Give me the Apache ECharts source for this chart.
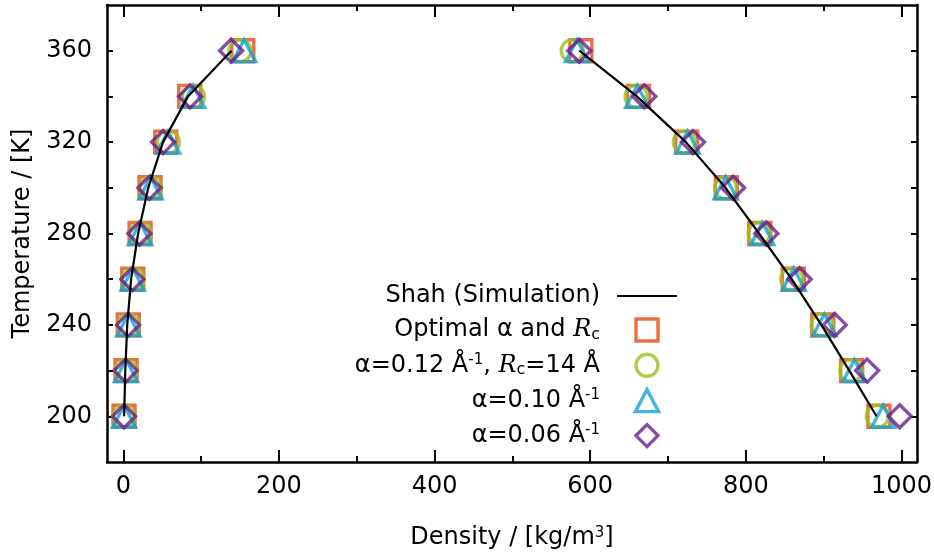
<!DOCTYPE html>
<html>
<head>
<meta charset="utf-8">
<script src="https://cdn.jsdelivr.net/npm/echarts@6/dist/echarts.min.js"></script>
<style>
  html, body { margin: 0; padding: 0; background: #fff; }
  #chart { width: 934px; height: 554px; }
</style>
</head>
<body>
<div id="chart"></div>
<script>
// Temperatures of the coexistence points [K]
const temperatures = [200, 220, 240, 260, 280, 300, 320, 340, 360];

// Shah simulation (vapour and liquid branches) [kg/m3]
const shahVapour = [1, 2.5, 5, 10, 19, 32, 51, 83, 139];
const shahLiquid = [968, 933, 897, 859, 817, 774, 723, 660, 586];

// Optimal alpha and Rc
const optimalVapour = [0.9, 3.5, 6.4, 12.1, 21.5, 34.3, 54.5, 85.4, 153.5];
const optimalLiquid = [971, 936, 899, 861, 818, 775, 724, 662, 588];

// alpha = 0.12 1/A, Rc = 14 A
const a012Vapour = [1, 3.5, 6.5, 12.5, 22, 35, 58, 90, 150];
const a012Liquid = [969, 935, 898, 859, 817, 774, 721, 659, 577];

// alpha = 0.10 1/A
const a010Vapour = [1, 3.5, 6.5, 12, 21.5, 35, 57.5, 89.6, 155.2];
const a010Liquid = [976.5, 939.6, 901, 861.5, 821.3, 774, 725.2, 660.5, 583];

// alpha = 0.06 1/A
const a006Vapour = [0.9, 3, 6, 11.5, 20.6, 33.5, 51, 85.8, 138.5];
const a006Liquid = [997.8, 955.9, 914.2, 869.2, 826.4, 783.6, 732.1, 669.5, 586];

// Axis ticks
const xMajorTicks = [0, 200, 400, 600, 800, 1000];
const xMinorTicks = [100, 300, 500, 700, 900];
const yTicks = [200, 220, 240, 260, 280, 300, 320, 340, 360];
const yLabels = [200, 240, 280, 320, 360];

// Series names and their legend text
const names = {
  shah: 'Shah (Simulation)',
  opt: 'Optimal α and Rc',
  a012: 'α=0.12 Å-1, Rc=14 Å',
  a010: 'α=0.10 Å-1',
  a006: 'α=0.06 Å-1'
};
const legendRich = {
  [names.shah]: '{t|Shah (Simulation)}{g| }',
  [names.opt]: '{t|Optimal α and }{r|R}{sub|c}{g| }',
  [names.a012]: '{t|α=0.12 Å}{sup|-1}{t|, }{r|R}{sub|c}{t|=14 Å}{g| }',
  [names.a010]: '{t|α=0.10 Å}{sup|-1}{g| }',
  [names.a006]: '{t|α=0.06 Å}{sup|-1}{g| }'
};

// Hollow marker outlines (aspect kept, so legend icons stay square)
const SQUARE = 'path://M0,0L1,0L1,1L0,1Z';
const TRIANGLE = 'path://M1,0L2,1.9L0,1.9Z';
const DIAMOND = 'path://M1,0L2,1L1,2L0,1Z';

const FONT = 'DejaVu Sans';
const MARK_W = 3.4;

// Pair densities with temperatures; both branches in one list
function points(vap, liq) {
  const out = [];
  temperatures.forEach((t, i) => out.push([vap[i], t]));
  temperatures.forEach((t, i) => out.push([liq[i], t]));
  return out;
}
// Line data: vapour branch, gap, liquid branch
function curve(vap, liq) {
  const out = temperatures.map((t, i) => [vap[i], t]);
  out.push('-');
  for (let i = temperatures.length - 1; i >= 0; i--) {
    out.push([liq[i], temperatures[i]]);
  }
  return out;
}

function markerSeries(name, symbol, size, color, vap, liq) {
  return {
    name: name,
    type: 'scatter',
    symbol: symbol,
    symbolSize: size,
    symbolKeepAspect: true,
    itemStyle: { color: 'rgba(0,0,0,0)', borderColor: color, borderWidth: MARK_W },
    emphasis: { disabled: true },
    data: points(vap, liq),
    z: 3
  };
}

const axisColor = '#000';
const lineW = 2.5;

const option = {
  animation: false,
  backgroundColor: '#fff',
  grid: { left: 107, right: 17, top: 5, bottom: 92, containLabel: false, outerBoundsMode: 'none' },
  legend: {
    orient: 'vertical',
    align: 'right',
    right: 256,
    top: 284,
    padding: 0,
    itemGap: 9.3,
    itemWidth: 60,
    itemHeight: 22,
    selectedMode: false,
    symbolKeepAspect: true,
    itemStyle: { borderWidth: MARK_W },
    data: [names.shah, names.opt, names.a012, names.a010, names.a006],
    formatter: (n) => legendRich[n],
    textStyle: {
      color: '#000',
      fontFamily: FONT,
      fontSize: 24,
      rich: {
        t: { fontFamily: FONT, fontSize: 24, lineHeight: 26, color: '#000' },
        r: { fontFamily: 'DejaVu Serif', fontStyle: 'italic', fontSize: 24, lineHeight: 26, color: '#000' },
        sub: { fontFamily: FONT, fontSize: 16, lineHeight: 10, verticalAlign: 'bottom', color: '#000' },
        sup: { fontFamily: FONT, fontSize: 15, lineHeight: 15, verticalAlign: 'top', color: '#000' },
        g: { width: 12, fontSize: 24, lineHeight: 26 }
      }
    }
  },
  xAxis: [
    {
      type: 'value', position: 'bottom', min: -21, max: 1020,
      axisLine: { show: true, onZero: false, lineStyle: { color: axisColor, width: lineW } },
      axisTick: { show: true, inside: true, length: 12, customValues: xMajorTicks, lineStyle: { color: axisColor, width: 2 } },
      axisLabel: {
        show: true, customValues: xMajorTicks, margin: 13, color: '#000', fontFamily: FONT, fontSize: 24,
        formatter: (v) => String(v)
      },
      splitLine: { show: false },
      name: 'Density / [kg/m{s|3}]',
      nameLocation: 'middle',
      nameGap: 64,
      nameTextStyle: {
        color: '#000', fontFamily: FONT, fontSize: 24,
        rich: { s: { fontFamily: FONT, fontSize: 15, lineHeight: 15, verticalAlign: 'top', color: '#000' } }
      }
    },
    {
      type: 'value', position: 'bottom', min: -21, max: 1020,
      axisLine: { show: false, onZero: false },
      axisTick: { show: true, inside: true, length: 6, customValues: xMinorTicks, lineStyle: { color: axisColor, width: 2 } },
      axisLabel: { show: false },
      splitLine: { show: false }
    },
    {
      type: 'value', position: 'top', min: -21, max: 1020,
      axisLine: { show: true, onZero: false, lineStyle: { color: axisColor, width: lineW } },
      axisTick: { show: true, inside: true, length: 12, customValues: xMajorTicks, lineStyle: { color: axisColor, width: 2 } },
      axisLabel: { show: false },
      splitLine: { show: false }
    },
    {
      type: 'value', position: 'top', min: -21, max: 1020,
      axisLine: { show: false, onZero: false },
      axisTick: { show: true, inside: true, length: 6, customValues: xMinorTicks, lineStyle: { color: axisColor, width: 2 } },
      axisLabel: { show: false },
      splitLine: { show: false }
    }
  ],
  yAxis: [
    {
      type: 'value', position: 'left', min: 180, max: 380,
      axisLine: { show: true, onZero: false, lineStyle: { color: axisColor, width: lineW } },
      axisTick: { show: true, inside: true, length: 6, customValues: yTicks, lineStyle: { color: axisColor, width: 2 } },
      axisLabel: { show: true, customValues: yLabels, margin: 15, color: '#000', fontFamily: FONT, fontSize: 24 },
      splitLine: { show: false },
      name: 'Temperature / [K]',
      nameLocation: 'middle',
      nameGap: 72,
      nameTextStyle: { color: '#000', fontFamily: FONT, fontSize: 24 }
    },
    {
      type: 'value', position: 'right', min: 180, max: 380,
      axisLine: { show: true, onZero: false, lineStyle: { color: axisColor, width: lineW } },
      axisTick: { show: true, inside: true, length: 6, customValues: yTicks, lineStyle: { color: axisColor, width: 2 } },
      axisLabel: { show: false },
      splitLine: { show: false }
    }
  ],
  series: [
    markerSeries(names.opt, SQUARE, 22, '#E84A18', optimalVapour, optimalLiquid),
    markerSeries(names.a012, 'circle', 22, '#9AC219', a012Vapour, a012Liquid),
    markerSeries(names.a010, TRIANGLE, 23, '#13A2D6', a010Vapour, a010Liquid),
    markerSeries(names.a006, DIAMOND, 23, '#6A1F8A', a006Vapour, a006Liquid),
    {
      name: names.shah,
      type: 'line',
      symbol: 'none',
      showSymbol: false,
      connectNulls: false,
      lineStyle: { color: '#000', width: 2.2 },
      itemStyle: { color: 'rgba(0,0,0,0)', borderColor: 'rgba(0,0,0,0)', borderWidth: 0 },
      emphasis: { disabled: true },
      data: curve(shahVapour, shahLiquid),
      z: 4
    }
  ]
};

const chart = echarts.init(document.getElementById('chart'), null, { renderer: 'canvas' });
chart.setOption(option);
</script>
</body>
</html>
